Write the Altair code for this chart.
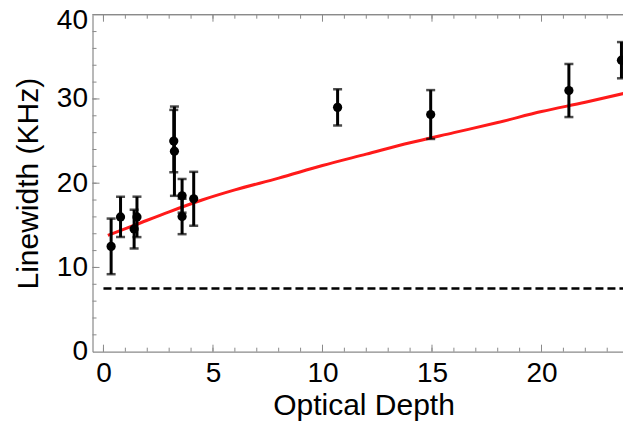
import altair as alt
import pandas as pd

# measured points (optical depth, linewidth, error)
od = [0.35, 0.78, 1.40, 1.53, 3.21, 3.24, 3.59, 3.59, 4.12, 10.69, 14.94, 21.25, 23.65]
lw = [12.5, 16.0, 14.55, 16.0, 25.0, 23.8, 18.5, 16.05, 18.15, 29.0, 28.15, 31.0, 34.6]
err = [3.3, 2.4, 2.3, 2.4, 3.7, 5.3, 2.0, 2.1, 3.2, 2.15, 2.9, 3.15, 2.15]

# red fitted curve
fit_x = [0.2, 1.5, 3.0, 4.5, 6.0, 8.0, 10.0, 12.0, 14.0, 16.0, 18.0, 20.0, 22.0, 24.0]
fit_y = [13.8, 15.1, 16.6, 18.0, 19.2, 20.6, 22.1, 23.45, 24.8, 26.0, 27.2, 28.5, 29.6, 30.8]

# dashed reference level
ref_x = [0.0, 24.0]
ref_y = [7.5, 7.5]

# tick values
x_minor = list(range(0, 24))
x_major = [0, 5, 10, 15, 20]
y_minor = list(range(2, 40, 2))
y_major = [10, 20, 30]

W, H = 530.5, 337
GRAY = "#8a8a8a"
FONT = "Liberation Sans"

pts = pd.DataFrame({"x": od, "y": lw, "lo": [a - b for a, b in zip(lw, err)],
                    "hi": [a + b for a, b in zip(lw, err)]})
fit = pd.DataFrame({"x": fit_x, "y": fit_y})
ref = pd.DataFrame({"x": ref_x, "y": ref_y})

xs = alt.Scale(domain=[-0.5, 23.72], nice=False, zero=False, padding=0)
ys = alt.Scale(domain=[0, 40], nice=False, zero=False, padding=0)

x_axis = alt.Axis(values=x_major, ticks=False, grid=False, domainColor=GRAY, domainWidth=1.2,
                  labelFontSize=28, labelFont=FONT, labelColor="black", labelPadding=8,
                  labelFlush=False, title="Optical Depth", titleFont=FONT, titleFontSize=30,
                  titleFontWeight="normal", titleColor="black", titleX=271, titleY=63,
                  titleBaseline="alphabetic", titleAlign="center")
y_axis = alt.Axis(values=[0, 10, 20, 30, 40], ticks=False, grid=False, domainColor=GRAY,
                  domainWidth=1.2, labelFontSize=28, labelFont=FONT, labelColor="black",
                  labelPadding=5, labelFlush=False,
                  labelOffset={"condition": {"test": "datum.value == 40", "value": 6}, "value": 0},
                  title="Linewidth (KHz)", titleFont=FONT,
                  titleFontSize=30, titleFontWeight="normal", titleColor="black",
                  titleX=-55, titleY=H / 2, titleBaseline="alphabetic", titleAlign="center",
                  titleAngle=270)

ref_line = alt.Chart(ref).mark_line(color="black", strokeWidth=2.6, strokeDash=[8, 4], clip=True).encode(
    x=alt.X("x:Q", scale=xs, axis=x_axis),
    y=alt.Y("y:Q", scale=ys, axis=y_axis),
)

fit_line = alt.Chart(fit).mark_line(color="#ff1a1a", strokeWidth=3, interpolate="monotone", clip=True).encode(
    x=alt.X("x:Q", scale=xs), y=alt.Y("y:Q", scale=ys))

bars = alt.Chart(pts).mark_rule(color="black", strokeWidth=3).encode(
    x=alt.X("x:Q", scale=xs), y=alt.Y("lo:Q", scale=ys), y2="hi:Q")
cap_lo = alt.Chart(pts).mark_tick(color="black", thickness=2.5, size=9, orient="horizontal").encode(
    x=alt.X("x:Q", scale=xs), y=alt.Y("lo:Q", scale=ys))
cap_hi = alt.Chart(pts).mark_tick(color="black", thickness=2.5, size=9, orient="horizontal").encode(
    x=alt.X("x:Q", scale=xs), y=alt.Y("hi:Q", scale=ys))
dots = alt.Chart(pts).mark_circle(color="black", opacity=1, size=85).encode(
    x=alt.X("x:Q", scale=xs), y=alt.Y("y:Q", scale=ys))

# inward ticks
xmin_df = pd.DataFrame({"t": x_minor})
xmaj_df = pd.DataFrame({"t": x_major})
ymin_df = pd.DataFrame({"t": y_minor})
ymaj_df = pd.DataFrame({"t": y_major})

bt_min = alt.Chart(xmin_df).mark_rule(color=GRAY, strokeWidth=1).encode(
    x=alt.X("t:Q", scale=xs), y=alt.value(H), y2=alt.value(H - 4))
bt_maj = alt.Chart(xmaj_df).mark_rule(color=GRAY, strokeWidth=1).encode(
    x=alt.X("t:Q", scale=xs), y=alt.value(H), y2=alt.value(H - 7))
tt_min = alt.Chart(xmin_df).mark_rule(color=GRAY, strokeWidth=1).encode(
    x=alt.X("t:Q", scale=xs), y=alt.value(0), y2=alt.value(4))
tt_maj = alt.Chart(xmaj_df).mark_rule(color=GRAY, strokeWidth=1).encode(
    x=alt.X("t:Q", scale=xs), y=alt.value(0), y2=alt.value(7))
lt_min = alt.Chart(ymin_df).mark_rule(color=GRAY, strokeWidth=1).encode(
    y=alt.Y("t:Q", scale=ys), x=alt.value(0), x2=alt.value(4))
lt_maj = alt.Chart(ymaj_df).mark_rule(color=GRAY, strokeWidth=1).encode(
    y=alt.Y("t:Q", scale=ys), x=alt.value(0), x2=alt.value(7))
top_line = alt.Chart(ref).mark_rule(color=GRAY, strokeWidth=1.2).encode(
    x=alt.value(0), x2=alt.value(W + 5), y=alt.value(0))

chart = alt.layer(
    ref_line, bt_min, bt_maj, tt_min, tt_maj, lt_min, lt_maj, top_line,
    fit_line, bars, cap_lo, cap_hi, dots
).properties(
    width=W, height=H,
    autosize=alt.AutoSizeParams(type="none"),
    padding={"left": 84.5, "top": 6.7, "right": 0, "bottom": 69},
    background="white",
).configure_view(stroke=None)

chart.save("out.html", embed_options={"renderer": "svg", "actions": False})
